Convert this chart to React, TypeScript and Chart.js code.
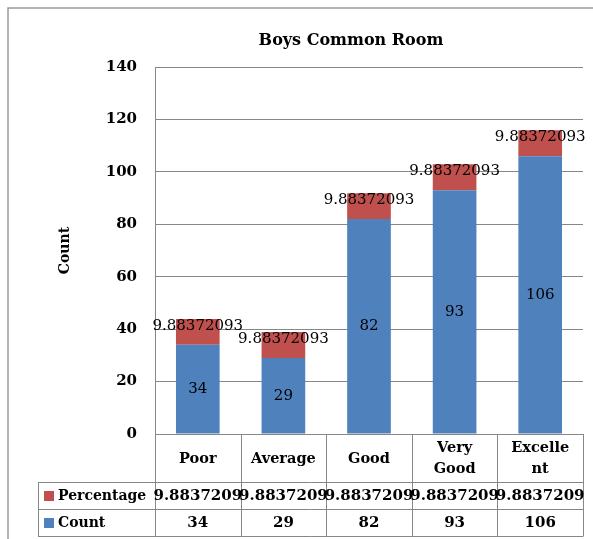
import React, { useEffect, useRef } from "react";
import { Chart, registerables } from "chart.js";

Chart.register(...registerables);

const TITLE = "Boys Common Room";
const Y_TITLE = "Count";
const categories = ["Poor", "Average", "Good", "Very Good", "Excellent"];
const headerLines = [["Poor"], ["Average"], ["Good"], ["Very", "Good"], ["Excelle", "nt"]];
const countValues = [34, 29, 82, 93, 106];
const percentageValues = [9.88372093, 9.88372093, 9.88372093, 9.88372093, 9.88372093];
const percentageLabel = "9.88372093";
const percentageTableText = "9.8837209";
const seriesNames = ["Percentage", "Count"];
const Y_MIN = 0;
const Y_MAX = 140;
const Y_STEP = 20;

const BLUE = "#4F81BD";
const RED = "#C0504D";
const GRID = "#878787";
const FONT = "'DejaVu Serif', serif";

export default function App() {
  const ref = useRef<HTMLCanvasElement | null>(null);

  useEffect(() => {
    const canvas = ref.current;
    if (!canvas) return;

    const custom = {
      id: "custom",
      afterDatasetsDraw(chart: any) {
        const { ctx } = chart;
        ctx.save();
        ctx.fillStyle = "#000";
        ctx.textAlign = "center";
        ctx.textBaseline = "middle";
        ctx.font = `15px ${FONT}`;
        const m0 = chart.getDatasetMeta(0);
        const m1 = chart.getDatasetMeta(1);
        m0.data.forEach((el: any, i: number) => {
          ctx.fillText(String(countValues[i]), el.x, (el.y + el.base) / 2);
        });
        m1.data.forEach((el: any) => {
          ctx.fillText(percentageLabel, el.x, (el.y + el.base) / 2 - 6);
        });
        ctx.restore();
      },
      afterDraw(chart: any) {
        const { ctx, chartArea } = chart;
        const x = chart.scales.x;
        const n = categories.length;
        const catW = (x.right - x.left) / n;
        const top = chartArea.bottom;
        const hdrBottom = top + 48;
        const row1Bottom = hdrBottom + 27;
        const row2Bottom = row1Bottom + 27;
        const tableLeft = 38;
        const right = x.right;

        ctx.save();
        // outer border
        ctx.strokeStyle = "#9a9a9a";
        ctx.lineWidth = 1.5;
        ctx.beginPath();
        ctx.moveTo(8, 539);
        ctx.lineTo(8, 8);
        ctx.lineTo(593, 8);
        ctx.stroke();

        // title
        ctx.fillStyle = "#000";
        ctx.font = `bold 16px ${FONT}`;
        ctx.textAlign = "center";
        ctx.textBaseline = "alphabetic";
        ctx.fillText(TITLE, 351, 45);

        // table grid
        ctx.strokeStyle = GRID;
        ctx.lineWidth = 1;
        const h = (y: number, a: number, b: number) => {
          ctx.beginPath();
          ctx.moveTo(a, Math.round(y) + 0.5);
          ctx.lineTo(b, Math.round(y) + 0.5);
          ctx.stroke();
        };
        const v = (xx: number, a: number, b: number) => {
          ctx.beginPath();
          ctx.moveTo(Math.round(xx) + 0.5, a);
          ctx.lineTo(Math.round(xx) + 0.5, b);
          ctx.stroke();
        };
        h(top, x.left, right);
        h(hdrBottom, tableLeft, right);
        h(row1Bottom, tableLeft, right);
        h(row2Bottom, tableLeft, right);
        v(tableLeft, hdrBottom, row2Bottom + 0.5);
        for (let i = 0; i <= n; i++) {
          v(x.left + i * catW, top, row2Bottom + 0.5);
        }

        // header text
        ctx.fillStyle = "#000";
        ctx.font = `bold 14.5px ${FONT}`;
        ctx.textAlign = "center";
        ctx.textBaseline = "middle";
        for (let i = 0; i < n; i++) {
          const cx = x.getPixelForValue(i);
          const lines = headerLines[i];
          const cy = (top + hdrBottom) / 2 + 1;
          const lh = 21;
          lines.forEach((ln, j) => {
            ctx.fillText(ln, cx, cy + (j - (lines.length - 1) / 2) * lh);
          });
        }

        // rows
        const rows = [
          { name: seriesNames[0], color: RED, vals: percentageValues.map(() => percentageTableText), y0: hdrBottom, y1: row1Bottom },
          { name: seriesNames[1], color: BLUE, vals: countValues.map((c) => String(c)), y0: row1Bottom, y1: row2Bottom },
        ];
        rows.forEach((r) => {
          const cy = (r.y0 + r.y1) / 2 + 0.5;
          ctx.fillStyle = r.color;
          ctx.fillRect(44, cy - 5, 10, 10);
          ctx.fillStyle = "#000";
          ctx.font = `bold 14px ${FONT}`;
          ctx.textAlign = "left";
          ctx.fillText(r.name, 58, cy);
          ctx.textAlign = "center";
          ctx.font = `bold 15px ${FONT}`;
          for (let i = 0; i < n; i++) {
            ctx.fillText(r.vals[i], x.getPixelForValue(i), cy);
          }
        });
        ctx.restore();
      },
    };

    const chart = new Chart(canvas, {
      type: "bar",
      data: {
        labels: categories,
        datasets: [
          { label: seriesNames[1], data: countValues, backgroundColor: BLUE, stack: "s" },
          { label: seriesNames[0], data: percentageValues, backgroundColor: RED, stack: "s" },
        ],
      },
      options: {
        responsive: false,
        animation: false,
        layout: { padding: { left: 0, right: 10, top: 67, bottom: 3 } },
        plugins: {
          legend: { display: false },
          title: { display: false },
          tooltip: { enabled: false },
        },
        datasets: {
          bar: { categoryPercentage: 1, barPercentage: 0.51 },
        },
        scales: {
          x: {
            stacked: true,
            grid: { display: false },
            border: { display: false },
            ticks: { display: false },
            afterFit: (s: any) => {
              s.height = 102;
            },
          },
          y: {
            stacked: true,
            min: Y_MIN,
            max: Y_MAX,
            ticks: {
              stepSize: Y_STEP,
              padding: 18,
              color: "#000",
              font: { family: FONT, size: 15, weight: "bold" },
            },
            grid: { color: GRID, drawTicks: false },
            border: { display: true, color: GRID },
            title: {
              display: true,
              text: Y_TITLE,
              color: "#000",
              font: { family: FONT, size: 14, weight: "bold" },
              padding: { top: 57, bottom: 0 },
            },
            afterFit: (s: any) => {
              s.width = 155;
            },
          },
        },
      },
      plugins: [custom],
    } as any);

    return () => chart.destroy();
  }, []);

  return (
    <div style={{ position: "fixed", left: 0, top: 0, width: 593, height: 539, background: "#fff" }}>
      <canvas ref={ref} width={593} height={539} style={{ display: "block" }} />
    </div>
  );
}
